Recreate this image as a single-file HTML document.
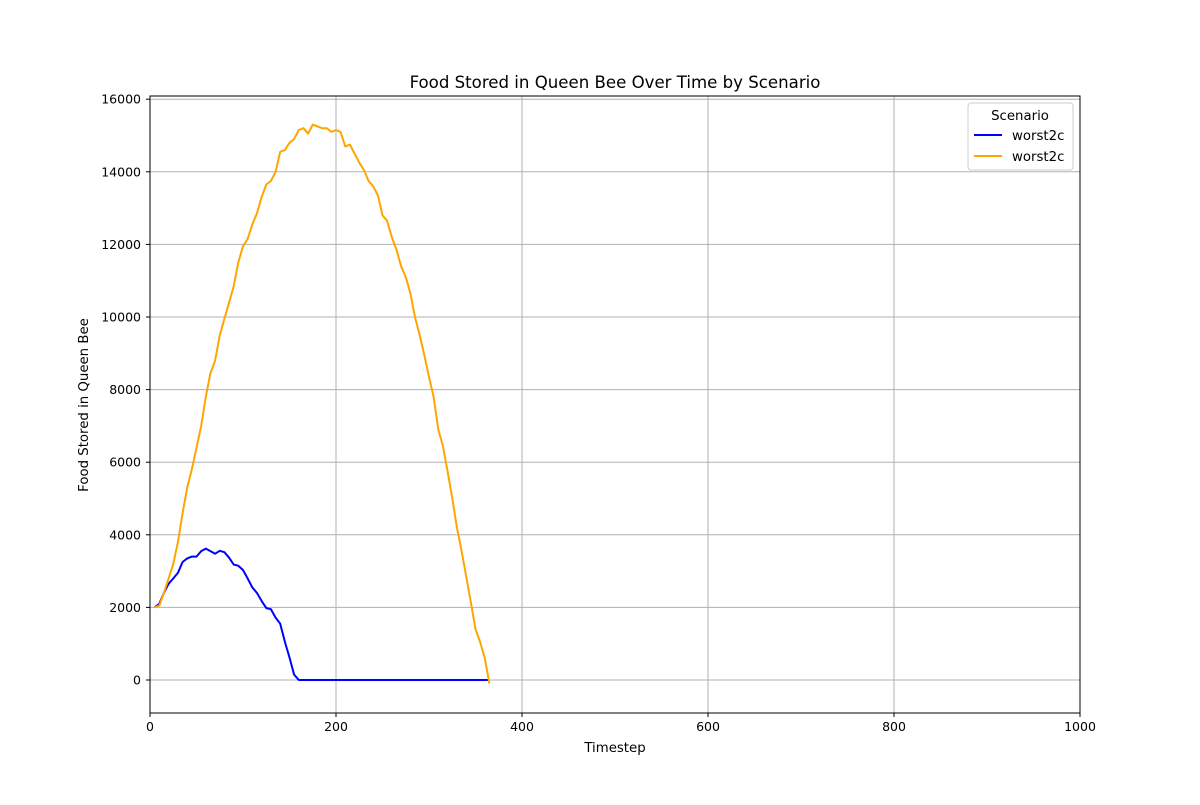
<!DOCTYPE html>
<html><head><meta charset="utf-8"><style>
body{margin:0;background:#fff;}
svg text{font-family:"DejaVu Sans","Liberation Sans",sans-serif;}
</style></head><body>
<svg id="chart" width="1200" height="800" xmlns="http://www.w3.org/2000/svg"></svg>
<script>
const timesteps=[5,10,15,20,25,30,35,40,45,50,55,60,65,70,75,80,85,90,95,100,105,110,115,120,125,130,135,140,145,150,155,160,165,170,175,180,185,190,195,200,205,210,215,220,225,230,235,240,245,250,255,260,265,270,275,280,285,290,295,300,305,310,315,320,325,330,335,340,345,350,355,360,365];
const seriesOrange=[2000,2050,2400,2800,3200,3800,4600,5300,5800,6400,7000,7800,8450,8800,9500,9950,10400,10850,11500,11950,12150,12550,12850,13300,13650,13750,14000,14550,14600,14800,14900,15150,15200,15050,15300,15250,15200,15200,15100,15150,15100,14700,14750,14500,14250,14050,13750,13600,13350,12800,12650,12200,11850,11400,11100,10650,10000,9500,8950,8350,7800,6900,6450,5750,5000,4200,3550,2850,2150,1400,1050,600,-100];
const seriesBlue=[2000,2100,2400,2650,2800,2950,3250,3350,3400,3400,3550,3620,3550,3480,3560,3520,3370,3180,3150,3030,2800,2550,2400,2180,1980,1950,1720,1550,1050,620,150,0,0,0,0,0,0,0,0,0,0,0,0,0,0,0,0,0,0,0,0,0,0,0,0,0,0,0,0,0,0,0,0,0,0,0,0,0,0,0,0,0,0];
const xTicks=[0,200,400,600,800,1000];
const yTicks=[0,2000,4000,6000,8000,10000,12000,14000,16000];
const L=150,R=1080,T=96,B=713;
const xMin=0,xMax=1000,yMin=-909,yMax=16088;
const X=v=>L+(v-xMin)/(xMax-xMin)*(R-L);
const Y=v=>B-(v-yMin)/(yMax-yMin)*(B-T);
const svg=document.getElementById('chart');
const NS='http://www.w3.org/2000/svg';
function mk(tag,attrs,parent){const e=document.createElementNS(NS,tag);for(const k in attrs)e.setAttribute(k,attrs[k]);(parent||svg).appendChild(e);return e;}
xTicks.forEach(t=>{
 const g=mk('line',{x1:X(t),x2:X(t),y1:T,y2:B,stroke:'#b0b0b0','stroke-width':1});
 
 
 mk('line',{x1:X(t),x2:X(t),y1:B,y2:B+4,stroke:'#000'});
 const tx=mk('text',{x:X(t),y:B+18,'text-anchor':'middle','font-size':12.5});
 tx.textContent=t;
 
 
});
yTicks.forEach(t=>{
 const g=mk('line',{x1:L,x2:R,y1:Y(t),y2:Y(t),stroke:'#b0b0b0','stroke-width':1});
 
 
 mk('line',{x1:L-4,x2:L,y1:Y(t),y2:Y(t),stroke:'#000'});
 const tx=mk('text',{x:L-9,y:Y(t)+4.5,'text-anchor':'end','font-size':12.5});
 tx.textContent=t;
 
 
});
function line(vals,color,name){
 const d=timesteps.map((t,i)=>(i?'L':'M')+X(t).toFixed(1)+','+Y(vals[i]).toFixed(1)).join('');
 const p=mk('path',{d:d,fill:'none',stroke:color,'stroke-width':2,'stroke-linejoin':'round'});
 
 
}
line(seriesBlue,'#0000ff','series-blue-line');
line(seriesOrange,'#ffa500','series-orange-line');
const frame=mk('rect',{x:L,y:T,width:R-L,height:B-T,fill:'none',stroke:'#000','stroke-width':1});


const title=mk('text',{x:615,y:88,'text-anchor':'middle','font-size':16.6});
title.textContent='Food Stored in Queen Bee Over Time by Scenario';


const xl=mk('text',{x:615,y:752,'text-anchor':'middle','font-size':13.3});
xl.textContent='Timestep';


const yl=mk('text',{x:88,y:405,'text-anchor':'middle','font-size':13.3,transform:'rotate(-90 88 405)'});
yl.textContent='Food Stored in Queen Bee';


const lg=mk('g',{});


mk('rect',{x:968,y:103,width:105,height:67,rx:3,fill:'#fff',stroke:'#ccc'},lg);
const lt=mk('text',{x:1020,y:120,'text-anchor':'middle','font-size':13.3},lg);
lt.textContent='Scenario';
[['#0000ff',135],['#ffa500',156]].forEach(([c,y])=>{
 const e=mk('g',{},lg);
 
 
 mk('line',{x1:974,x2:1002,y1:y,y2:y,stroke:c,'stroke-width':2},e);
 const t=mk('text',{x:1012,y:y+5,'font-size':13.3},e);
 t.textContent='worst2c';
});
</script>
</body></html>
